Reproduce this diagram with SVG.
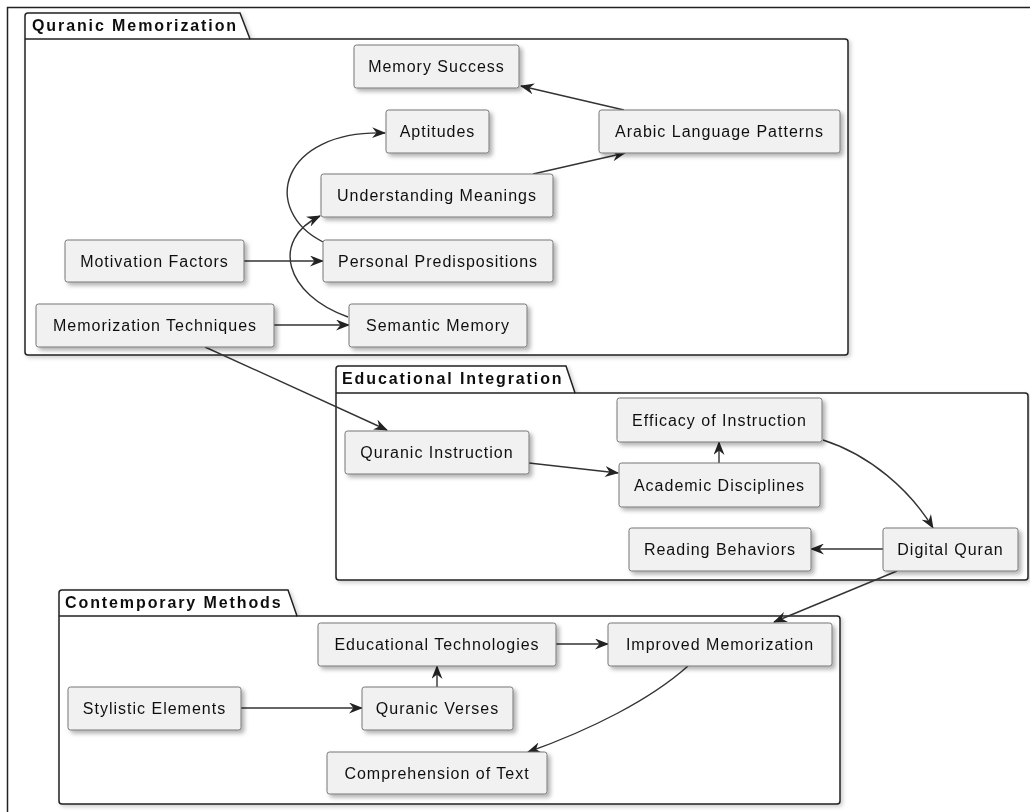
<svg xmlns="http://www.w3.org/2000/svg" width="1030" height="812" viewBox="0 0 1030 812">
<defs>
<filter id="sh" x="-10%" y="-20%" width="130%" height="160%">
<feDropShadow dx="3" dy="3" stdDeviation="2" flood-color="#000" flood-opacity="0.3"/>
</filter>
<filter id="psh" x="-5%" y="-5%" width="110%" height="110%">
<feDropShadow dx="2" dy="2" stdDeviation="2" flood-color="#000" flood-opacity="0.2"/>
</filter>
<marker id="ah" viewBox="0 0 14 11" refX="13" refY="5.5" markerWidth="14" markerHeight="11" markerUnits="userSpaceOnUse" orient="auto">
<path d="M0,0 L14,5.5 L0,11 L4.5,5.5 Z" fill="#222"/>
</marker>
</defs>
<style>
.node rect{fill:#f1f1f1;stroke:#777;stroke-width:1;}
.node text{font-family:"Liberation Sans",Arial,sans-serif;font-size:16px;letter-spacing:1px;fill:#111;text-anchor:middle;}
.pkg path{fill:#fff;stroke:#222;stroke-width:1.5;}
.pkg text{font-family:"Liberation Sans",Arial,sans-serif;font-size:16px;font-weight:bold;letter-spacing:1.9px;fill:#111;}
.edges path,.edges line{fill:none;stroke:#333;stroke-width:1.4;marker-end:url(#ah);}
</style>
<rect width="1030" height="812" fill="#fff"/>
<path d="M7.5,812 L7.5,7.5 L1030,7.5" fill="none" stroke="#222" stroke-width="1.5"/>

<g id="pkg-quranic-memorization" class="pkg" filter="url(#psh)">
<path d="M25,39 L25,16 Q25,13 28,13 L240,13 L250,39 L845,39 Q848,39 848,42 L848,352 Q848,355 845,355 L28,355 Q25,355 25,352 Z"/>
<path d="M25,39 L250,39" />
<text x="32" y="31">Quranic Memorization</text>
</g>
<g id="pkg-educational-integration" class="pkg" filter="url(#psh)">
<path d="M336,393 L336,369 Q336,366 339,366 L566,366 L575,393 L1025,393 Q1028,393 1028,396 L1028,577 Q1028,580 1025,580 L339,580 Q336,580 336,577 Z"/>
<path d="M336,393 L575,393"/>
<text x="342" y="384">Educational Integration</text>
</g>
<g id="pkg-contemporary-methods" class="pkg" filter="url(#psh)">
<path d="M59,616 L59,593 Q59,590 62,590 L288,590 L297,616 L837,616 Q840,616 840,619 L840,801 Q840,804 837,804 L62,804 Q59,804 59,801 Z"/>
<path d="M59,616 L297,616"/>
<text x="65" y="608">Contemporary Methods</text>
</g>

<g class="edges" id="connectors">
<line x1="624" y1="110" x2="521" y2="86"/>
<line x1="533" y1="174" x2="625" y2="153"/>
<path d="M323,242 C260,210 280,130 385,133"/>
<path d="M348,317 C285,295 270,240 320,216"/>
<line x1="244" y1="261" x2="323" y2="261"/>
<line x1="274" y1="325" x2="349" y2="325"/>
<line x1="205" y1="347" x2="387" y2="430"/>
<line x1="529" y1="463" x2="618" y2="473"/>
<line x1="719" y1="463" x2="719" y2="442"/>
<path d="M823,440 C870,455 910,490 933,528"/>
<line x1="883" y1="549" x2="811" y2="549"/>
<line x1="897" y1="571" x2="774" y2="622"/>
<line x1="556" y1="644" x2="608" y2="644"/>
<line x1="437" y1="687" x2="437" y2="666"/>
<line x1="241" y1="708" x2="362" y2="708"/>
<path d="M688,666 C650,700 590,730 528,752"/>
</g>

<g id="memory-success" class="node" filter="url(#sh)"><rect x="354" y="45" width="165" height="43" rx="2.5"/><text x="436.5" y="72">Memory Success</text></g>
<g id="aptitudes" class="node" filter="url(#sh)"><rect x="386" y="110" width="103" height="43" rx="2.5"/><text x="437.5" y="137">Aptitudes</text></g>
<g id="arabic-language-patterns" class="node" filter="url(#sh)"><rect x="599" y="110" width="241" height="43" rx="2.5"/><text x="719.5" y="137">Arabic Language Patterns</text></g>
<g id="understanding-meanings" class="node" filter="url(#sh)"><rect x="321" y="174" width="232" height="43" rx="2.5"/><text x="437" y="201">Understanding Meanings</text></g>
<g id="personal-predispositions" class="node" filter="url(#sh)"><rect x="323" y="240" width="230" height="42" rx="2.5"/><text x="438" y="266.5">Personal Predispositions</text></g>
<g id="motivation-factors" class="node" filter="url(#sh)"><rect x="65" y="240" width="179" height="42" rx="2.5"/><text x="154.5" y="266.5">Motivation Factors</text></g>
<g id="memorization-techniques" class="node" filter="url(#sh)"><rect x="36" y="304" width="238" height="43" rx="2.5"/><text x="155" y="331">Memorization Techniques</text></g>
<g id="semantic-memory" class="node" filter="url(#sh)"><rect x="349" y="304" width="178" height="43" rx="2.5"/><text x="438" y="331">Semantic Memory</text></g>

<g id="quranic-instruction" class="node" filter="url(#sh)"><rect x="345" y="431" width="184" height="43" rx="2.5"/><text x="437" y="458">Quranic Instruction</text></g>
<g id="efficacy-of-instruction" class="node" filter="url(#sh)"><rect x="617" y="398" width="205" height="44" rx="2.5"/><text x="719.5" y="425.5">Efficacy of Instruction</text></g>
<g id="academic-disciplines" class="node" filter="url(#sh)"><rect x="619" y="463" width="201" height="44" rx="2.5"/><text x="719.5" y="490.5">Academic Disciplines</text></g>
<g id="reading-behaviors" class="node" filter="url(#sh)"><rect x="629" y="528" width="182" height="43" rx="2.5"/><text x="720" y="555">Reading Behaviors</text></g>
<g id="digital-quran" class="node" filter="url(#sh)"><rect x="883" y="528" width="135" height="43" rx="2.5"/><text x="950.5" y="555">Digital Quran</text></g>

<g id="educational-technologies" class="node" filter="url(#sh)"><rect x="318" y="623" width="238" height="43" rx="2.5"/><text x="437" y="650">Educational Technologies</text></g>
<g id="improved-memorization" class="node" filter="url(#sh)"><rect x="608" y="623" width="224" height="43" rx="2.5"/><text x="720" y="650">Improved Memorization</text></g>
<g id="stylistic-elements" class="node" filter="url(#sh)"><rect x="68" y="687" width="173" height="43" rx="2.5"/><text x="154.5" y="714">Stylistic Elements</text></g>
<g id="quranic-verses" class="node" filter="url(#sh)"><rect x="362" y="687" width="151" height="43" rx="2.5"/><text x="437.5" y="714">Quranic Verses</text></g>
<g id="comprehension-of-text" class="node" filter="url(#sh)"><rect x="327" y="752" width="220" height="42" rx="2.5"/><text x="437" y="778.5">Comprehension of Text</text></g>
</svg>
